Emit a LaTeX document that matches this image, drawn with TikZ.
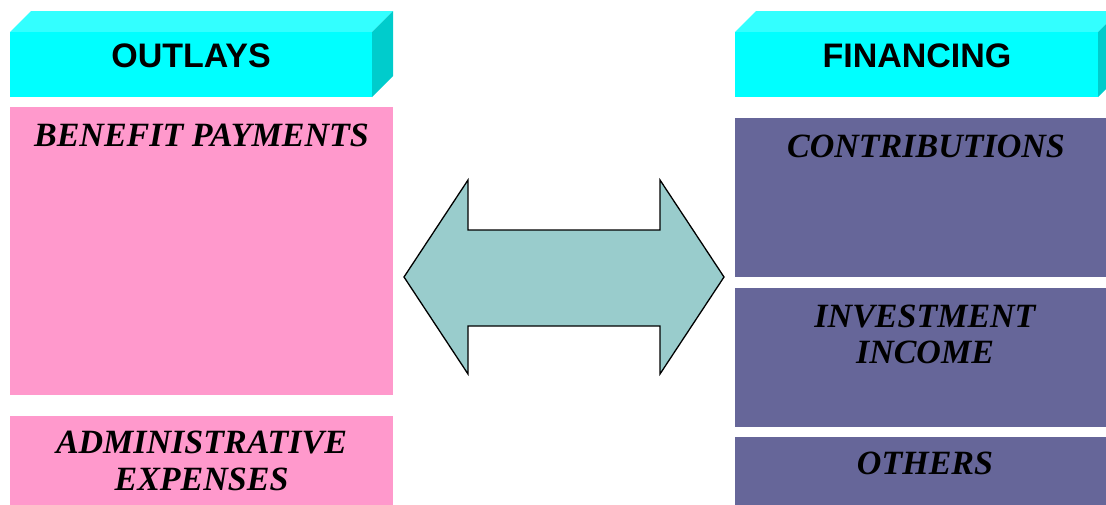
\documentclass[tikz,border=0pt]{standalone}
\usepackage{fontspec}
\setmainfont{Liberation Serif}
\setsansfont{Liberation Sans}
\definecolor{cyanfront}{HTML}{00FFFF}
\definecolor{cyantop}{HTML}{33FFFF}
\definecolor{cyanside}{HTML}{00CCCC}
\definecolor{pinkbox}{HTML}{FF99CC}
\definecolor{purplebox}{HTML}{666699}
\definecolor{arrowfill}{HTML}{99CCCC}
\begin{document}
\begin{tikzpicture}[x=1pt,y=-1pt,
  headtext/.style={font=\sffamily\bfseries\fontsize{34}{39}\selectfont, anchor=base, inner sep=0pt},
  itemtext/.style={font=\rmfamily\bfseries\itshape\fontsize{34}{39}\selectfont, anchor=base, inner sep=0pt},
  panel/.style={draw=none, inner sep=0pt, anchor=north west}]
\useasboundingbox (0,0) rectangle (1106,504);
\clip (0,0) rectangle (1106,504);
% left 3D header
\fill[cyantop] (10,32) -- (31,11) -- (393,11) -- (372,32) -- cycle;
\fill[cyanside] (372,32) -- (393,11) -- (393,76) -- (372,97) -- cycle;
\node[panel, fill=cyanfront, minimum width=362pt, minimum height=65pt] (outlays) at (10,32) {};
\node[headtext] (outlaystext) at (191,67) {OUTLAYS};
% right 3D header
\fill[cyantop] (735,32) -- (756,11) -- (1119,11) -- (1098,32) -- cycle;
\fill[cyanside] (1098,32) -- (1119,11) -- (1119,76) -- (1098,97) -- cycle;
\node[panel, fill=cyanfront, minimum width=363pt, minimum height=65pt] (financing) at (735,32) {};
\node[headtext] (financingtext) at (917,67) {FINANCING};
% pink boxes
\node[panel, fill=pinkbox, minimum width=383pt, minimum height=288pt] (benefit) at (10,107) {};
\node[itemtext] (benefittext) at (201.5,146) {BENEFIT PAYMENTS};
\node[panel, fill=pinkbox, minimum width=383pt, minimum height=100pt] (admin) at (10,416) {};
\node[itemtext] (admintext1) at (201.5,453) {ADMINISTRATIVE};
\node[itemtext] (admintext2) at (201.5,490) {EXPENSES};
% purple boxes
\node[panel, fill=purplebox, minimum width=383pt, minimum height=159pt] (contrib) at (735,118) {};
\node[itemtext] (contribtext) at (926,157) {CONTRIBUTIONS};
\node[panel, fill=purplebox, minimum width=383pt, minimum height=139pt] (invest) at (735,288) {};
\node[itemtext] (investtext1) at (925,327) {INVESTMENT};
\node[itemtext] (investtext2) at (925,363) {INCOME};
\node[panel, fill=purplebox, minimum width=383pt, minimum height=80pt] (others) at (735,437) {};
\node[itemtext] (otherstext) at (925,474) {OTHERS};
% double arrow
\draw[fill=arrowfill, line width=1.3pt, line join=miter]
  (404,277) -- (468,180) -- (468,230) -- (660,230) -- (660,180) -- (724,277)
  -- (660,374) -- (660,326) -- (468,326) -- (468,374) -- cycle;
\end{tikzpicture}
\end{document}
